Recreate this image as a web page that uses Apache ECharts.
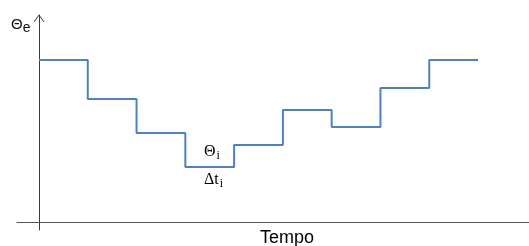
<!DOCTYPE html>
<html>
<head>
<meta charset="utf-8">
<script src="https://cdn.jsdelivr.net/npm/echarts@6/dist/echarts.min.js"></script>
<style>
  html, body { margin: 0; padding: 0; background: #fff; }
  #chart { width: 529px; height: 246px; }
</style>
</head>
<body>
<div id="chart"></div>
<script>
// intervalli di tempo (inizio di ogni gradino) e temperatura per gradino
const stepStarts = [0, 1, 2, 3, 4, 5, 6, 7, 8]
const stepValues = [162, 123, 89, 55, 77, 112, 95, 134, 162]
const endTime = 9

// punti per la linea a gradini (l'ultimo valore si ripete alla fine)
const points = stepStarts.map((t, i) => [t, stepValues[i]])
points.push([endTime, stepValues[stepValues.length - 1]])

const chart = echarts.init(document.getElementById('chart'))
const axisColor = '#3a3a3a'

const option = {
  animation: false,
  grid: { left: 17, right: 0, top: 15, bottom: 16 },
  xAxis: {
    type: 'value',
    min: -0.451,
    max: 10.045,
    axisLine: { show: true, onZero: true, lineStyle: { color: '#555', width: 1 } },
    axisTick: { show: false },
    axisLabel: { show: false },
    splitLine: { show: false }
  },
  yAxis: {
    type: 'value',
    min: -8,
    max: 207,
    axisLine: { show: true, onZero: true, lineStyle: { color: axisColor, width: 1 } },
    axisTick: { show: false },
    axisLabel: { show: false },
    splitLine: { show: false }
  },
  series: [{
    type: 'line',
    step: 'end',
    data: points,
    symbol: 'none',
    lineStyle: { color: '#4f81bd', width: 2 }
  }],
  graphic: [
    {
      type: 'polyline',
      shape: { points: [[34, 22], [39, 15], [44, 22]] },
      style: { stroke: axisColor, lineWidth: 1, fill: null }
    },
    {
      type: 'text',
      left: 11, top: 17,
      style: {
        text: '{a|Θ}{b|e}',
        rich: {
          a: { fontFamily: 'Liberation Sans', fontSize: 15, fill: '#111' },
          b: { fontFamily: 'Liberation Sans', fontSize: 14, fill: '#111', padding: [8, 0, 0, 0] }
        }
      }
    },
    {
      type: 'text',
      left: 204, top: 144,
      style: {
        text: '{a|Θ}{b|i}',
        rich: {
          a: { fontFamily: 'Liberation Serif', fontSize: 16, fill: '#000' },
          b: { fontFamily: 'Liberation Serif', fontSize: 12, fill: '#000', padding: [8, 0, 0, 1] }
        }
      }
    },
    {
      type: 'text',
      left: 204, top: 172,
      style: {
        text: '{a|Δt}{b|i}',
        rich: {
          a: { fontFamily: 'Liberation Serif', fontSize: 16, fill: '#000' },
          b: { fontFamily: 'Liberation Serif', fontSize: 12, fill: '#000', padding: [8, 0, 0, 1] }
        }
      }
    },
    {
      type: 'text',
      left: 260, top: 229,
      style: { text: 'Tempo', fontFamily: 'Liberation Sans', fontSize: 18, fill: '#000' }
    }
  ]
}

chart.setOption(option)
</script>
</body>
</html>
